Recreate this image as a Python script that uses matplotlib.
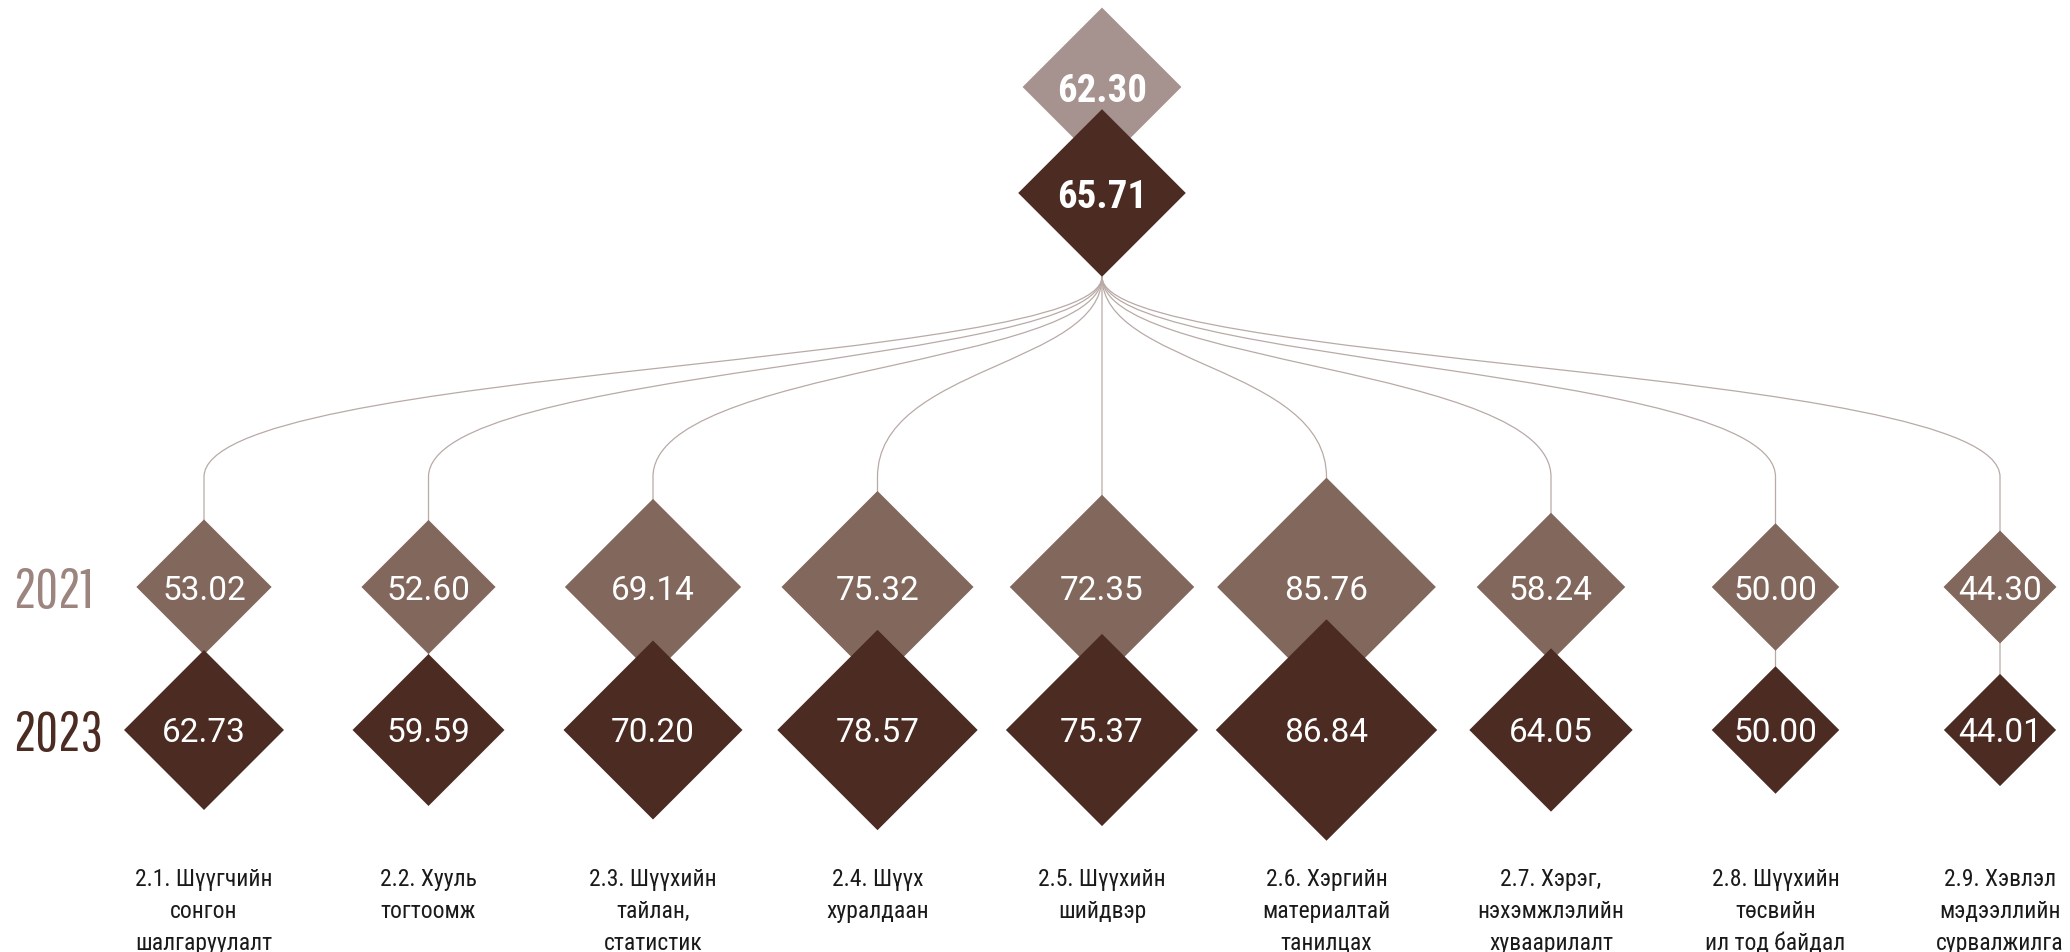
import matplotlib
matplotlib.use("Agg")
import matplotlib.pyplot as plt
from matplotlib.patches import Polygon, PathPatch
from matplotlib.path import Path
import numpy as np

# ---------------- data ----------------
categories = [
    "2.1. Шүүгчийн\nсонгон\nшалгаруулалт",
    "2.2. Хууль\nтогтоомж",
    "2.3. Шүүхийн\nтайлан,\nстатистик",
    "2.4. Шүүх\nхуралдаан",
    "2.5. Шүүхийн\nшийдвэр",
    "2.6. Хэргийн\nматериалтай\nтанилцах",
    "2.7. Хэрэг,\nнэхэмжлэлийн\nхуваарилалт",
    "2.8. Шүүхийн\nтөсвийн\nил тод байдал",
    "2.9. Хэвлэл\nмэдээллийн\nсурвалжилга",
]
values_2021 = [53.02, 52.60, 69.14, 75.32, 72.35, 85.76, 58.24, 50.00, 44.30]
values_2023 = [62.73, 59.59, 70.20, 78.57, 75.37, 86.84, 64.05, 50.00, 44.01]
total_2021 = 62.30
total_2023 = 65.71
years = ["2021", "2023"]

# ---------------- style / layout ----------------
c_light = "#A6938F"
c_2021 = "#82675C"
c_2023 = "#4B2B22"
c_line = "#B9AAA6"
c_year21 = "#9C857F"

W, H = 2070, 952
x_first, x_step = 204, 224.5
y21, y23 = 587, 730
y_top21, y_top23 = 87, 193
k = 1.275  # half-diagonal (px) per unit of value

COND = ["Roboto Condensed", "Roboto", "DejaVu Sans"]
VALF = ["Roboto", "DejaVu Sans"]
YEARF = ["Pathway Gothic One", "Roboto Condensed", "DejaVu Sans"]

fig = plt.figure(figsize=(W / 100, H / 100), dpi=100)
ax = fig.add_axes([0, 0, 1, 1])
ax.set_xlim(0, W)
ax.set_ylim(H, 0)
ax.axis("off")

xs = x_first + x_step * np.arange(len(categories))
x_root = xs[4]


def diamond(x, y, v, color, z):
    h = k * v
    ax.add_patch(Polygon([(x, y - h), (x + h, y), (x, y + h), (x - h, y)],
                         closed=True, facecolor=color, edgecolor="none", zorder=z))


# connectors
root_y = y_top23 + k * total_2023
y_mid, y_end = 366, 477
for x in xs:
    verts = [(x_root, root_y), (x_root, y_mid), (x, y_mid), (x, y_end), (x, y23)]
    codes = [Path.MOVETO, Path.CURVE4, Path.CURVE4, Path.CURVE4, Path.LINETO]
    ax.add_patch(PathPatch(Path(verts, codes), facecolor="none", edgecolor=c_line,
                           lw=0.9, zorder=1))

# top diamonds
diamond(x_root, y_top21, total_2021, c_light, 2)
diamond(x_root, y_top23, total_2023, c_2023, 3)
ax.text(x_root, y_top21, f"{total_2021:.2f}", color="white", fontsize=28,
        fontweight="bold", family=COND, ha="center", va="center_baseline", zorder=5)
ax.text(x_root, y_top23, f"{total_2023:.2f}", color="white", fontsize=28,
        fontweight="bold", family=COND, ha="center", va="center_baseline", zorder=5)

# category diamonds
for x, v1, v2, cat in zip(xs, values_2021, values_2023, categories):
    diamond(x, y21, v1, c_2021, 2)
    diamond(x, y23, v2, c_2023, 3)
    ax.text(x, y21, f"{v1:.2f}", color="white", fontsize=24, family=VALF,
            ha="center", va="center_baseline", zorder=5)
    ax.text(x, y23, f"{v2:.2f}", color="white", fontsize=24, family=VALF,
            ha="center", va="center_baseline", zorder=5)
    for j, line in enumerate(cat.split("\n")):
        ax.text(x, 877 + 32 * j, line, color="#1a1a1a", fontsize=17, family=COND,
                ha="center", va="center_baseline", zorder=5)

# year labels
ax.text(13, y21, years[0], color=c_year21, fontsize=40, family=YEARF,
        ha="left", va="center_baseline")
ax.text(13, y23, years[1], color=c_2023, fontsize=40, family=YEARF,
        ha="left", va="center_baseline")

fig.savefig("out.png", dpi=100)
